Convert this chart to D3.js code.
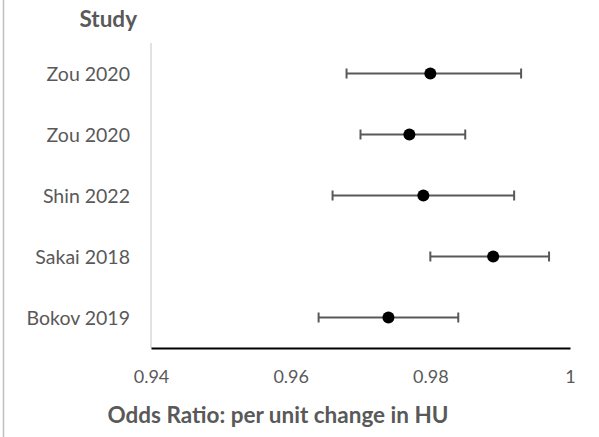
<!DOCTYPE html>
<html>
<head>
<meta charset="utf-8">
<script src="https://cdn.jsdelivr.net/npm/d3@7"></script>
<style>
  body { margin: 0; background: #fff; }
  text { font-family: Lato, "Open Sans", sans-serif; }
</style>
</head>
<body>
<div id="chart"></div>
<script>
// studies, top to bottom
var studies = ["Zou 2020", "Zou 2020 ", "Shin 2022", "Sakai 2018", "Bokov 2019"];
var oddsRatio = [0.980, 0.977, 0.979, 0.989, 0.974];
var lowerCI = [0.968, 0.970, 0.966, 0.980, 0.964];
var upperCI = [0.993, 0.985, 0.992, 0.997, 0.984];
var xTicks = [0.94, 0.96, 0.98, 1];

var data = studies.map(function (s, i) {
  return { study: s, or: oddsRatio[i], lo: lowerCI[i], hi: upperCI[i] };
});

var W = 599, H = 437;
var margin = { top: 43, right: 29, bottom: 89, left: 151 };
var width = W - margin.left - margin.right;
var height = H - margin.top - margin.bottom;

var svg = d3.select("#chart").append("svg")
  .attr("width", W)
  .attr("height", H);

// outer border on the left
svg.append("line")
  .attr("x1", 3.5).attr("x2", 3.5)
  .attr("y1", 0).attr("y2", H)
  .attr("stroke", "#bfbfbf")
  .attr("stroke-width", 1.5);

var g = svg.append("g")
  .attr("transform", "translate(" + margin.left + "," + margin.top + ")");

var x = d3.scaleLinear().domain([0.94, 1]).range([0, width]);
var y = d3.scaleBand().domain(studies).range([0, height]);

// light vertical axis line
g.append("line")
  .attr("x1", 0).attr("x2", 0)
  .attr("y1", 0).attr("y2", height)
  .attr("stroke", "#d9d9d9")
  .attr("stroke-width", 1.5);

// study labels
g.selectAll(".study")
  .data(data)
  .enter().append("text")
  .attr("class", "study")
  .attr("x", -21)
  .attr("y", function (d) { return y(d.study) + y.bandwidth() / 2; })
  .attr("dy", "0.36em")
  .attr("text-anchor", "end")
  .attr("fill", "#595959")
  .style("font-size", "19.5px")
  .text(function (d) { return d.study.trim(); });

svg.append("text")
  .attr("x", 137)
  .attr("y", 27)
  .attr("text-anchor", "end")
  .attr("fill", "#595959")
  .style("font-size", "22.5px")
  .style("font-weight", "bold")
  .text("Study");

// x axis
var xAxis = g.append("g")
  .attr("transform", "translate(0," + height + ")")
  .call(d3.axisBottom(x).tickValues(xTicks).tickSize(0).tickPadding(22)
    .tickFormat(function (d) { return d === 1 ? "1" : d3.format(".2f")(d); }));
xAxis.select(".domain").attr("stroke", "#000").attr("stroke-width", 2);
xAxis.selectAll("text")
  .attr("fill", "#595959")
  .style("font-size", "18px")
  .style("font-family", "Lato, 'Open Sans', sans-serif");

svg.append("text")
  .attr("x", 278)
  .attr("y", 423)
  .attr("text-anchor", "middle")
  .attr("fill", "#595959")
  .style("font-size", "22.5px")
  .style("font-weight", "bold")
  .text("Odds Ratio: per unit change in HU");

// error bars
var rows = g.selectAll(".row")
  .data(data)
  .enter().append("g")
  .attr("class", "row")
  .attr("transform", function (d) { return "translate(0," + (y(d.study) + y.bandwidth() / 2) + ")"; });

rows.append("line")
  .attr("x1", function (d) { return x(d.lo); })
  .attr("x2", function (d) { return x(d.hi); })
  .attr("stroke", "#595959")
  .attr("stroke-width", 2);

rows.append("line")
  .attr("x1", function (d) { return x(d.lo); })
  .attr("x2", function (d) { return x(d.lo); })
  .attr("y1", -5).attr("y2", 5)
  .attr("stroke", "#595959")
  .attr("stroke-width", 2);

rows.append("line")
  .attr("x1", function (d) { return x(d.hi); })
  .attr("x2", function (d) { return x(d.hi); })
  .attr("y1", -5).attr("y2", 5)
  .attr("stroke", "#595959")
  .attr("stroke-width", 2);

rows.append("circle")
  .attr("cx", function (d) { return x(d.or); })
  .attr("r", 6)
  .attr("fill", "#000");
</script>
</body>
</html>
